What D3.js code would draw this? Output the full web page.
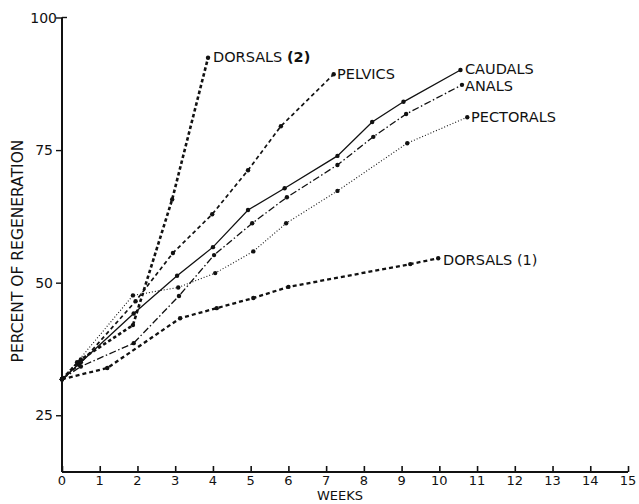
<!DOCTYPE html>
<html>
<head>
<meta charset="utf-8">
<script src="https://cdn.jsdelivr.net/npm/d3@7"></script>
<style>
  body { margin: 0; background: #fff; }
  text { font-family: "DejaVu Sans", sans-serif; fill: #111; }
</style>
</head>
<body>
<script>
// weeks / percent of regeneration
var caudals   = [[0,31.8],[0.5,35],[1.9,44.2],[3.05,51.3],[4,56.7],[4.93,63.7],[5.9,67.8],[7.3,73.9],[8.22,80.3],[9.05,84.1],[10.56,90.1]];
var anals     = [[0,31.8],[0.5,34.2],[1.9,38.6],[3.1,47.5],[4.03,55.2],[5.04,61.2],[5.96,66.1],[7.3,72.2],[8.25,77.5],[9.12,81.8],[10.6,87.3]];
var pectorals = [[0,31.8],[0.4,35],[1.88,47.6],[3.08,49.1],[4.06,51.8],[5.07,55.9],[5.94,61.2],[7.3,67.3],[9.15,76.3],[10.74,81.2]];
var pelvics   = [[0,31.8],[0.45,34.5],[1.95,46.5],[2.94,55.6],[3.98,62.9],[4.93,71.2],[5.8,79.5],[7.2,89.3]];
var dorsals1  = [[0,31.8],[1.2,33.9],[3.13,43.3],[4.1,45.2],[5.07,47.1],[6,49.2],[9.23,53.5],[9.97,54.6]];
var dorsals2  = [[0,31.8],[0.5,35.5],[1.88,42],[2.92,65.7],[3.87,92.4]];

var xTicks = [0,1,2,3,4,5,6,7,8,9,10,11,12,13,14,15];
var yTicks = [25,50,75,100];

var width = 639, height = 504;

var svg = d3.select("body").append("svg")
    .attr("width", width).attr("height", height);

var x = d3.scaleLinear().domain([0, 15]).range([62, 628]);
var y = d3.scaleLinear().domain([14.3, 100]).range([472, 17.5]);

// axes
var xAxis = d3.axisTop(x).tickValues(xTicks).tickSize(6).tickFormat("");
var gx = svg.append("g").attr("transform", "translate(0," + y(14.3) + ")").call(xAxis);
gx.select(".domain").remove();
gx.selectAll("line").attr("stroke", "#111").attr("stroke-width", 1.6);

svg.append("line")
    .attr("x1", x(0)).attr("x2", x(15))
    .attr("y1", y(14.3)).attr("y2", y(14.3))
    .attr("stroke", "#111").attr("stroke-width", 2);

svg.selectAll(".xlab")
    .data(xTicks)
    .enter().append("text")
    .attr("class", "xlab")
    .attr("x", function(d){ return x(d); })
    .attr("y", 485)
    .attr("text-anchor", "middle")
    .style("font-size", "13px")
    .text(function(d){ return d; });

var yAxis = d3.axisLeft(y).tickValues(yTicks).tickSize(6).tickFormat("");
var gy = svg.append("g").attr("transform", "translate(" + x(0) + ",0)").call(yAxis);
gy.select(".domain").remove();
gy.selectAll("line").attr("stroke", "#111").attr("stroke-width", 1.4);

svg.append("line")
    .attr("x1", x(0)).attr("x2", x(0))
    .attr("y1", y(100)).attr("y2", y(14.3))
    .attr("stroke", "#111").attr("stroke-width", 2);
svg.append("line")
    .attr("x1", x(0)).attr("x2", x(0) + 5)
    .attr("y1", y(100)).attr("y2", y(100))
    .attr("stroke", "#111").attr("stroke-width", 1.4);

svg.selectAll(".ylab")
    .data(yTicks)
    .enter().append("text")
    .attr("class", "ylab")
    .attr("x", function(d){ return d == 100 ? 57 : 53; })
    .attr("y", function(d){ return y(d) + 5; })
    .attr("text-anchor", "end")
    .style("font-size", "14px")
    .text(function(d){ return d; });

svg.append("text")
    .attr("text-anchor", "middle")
    .attr("x", 340).attr("y", 500)
    .style("font-size", "13px")
    .text("WEEKS");

svg.append("text")
    .attr("text-anchor", "middle")
    .attr("transform", "translate(23,251)rotate(-90)")
    .style("font-size", "15.5px")
    .text("PERCENT OF REGENERATION");

// series
var series = [
  {name: "caudals",   data: caudals,   dash: null,            w: 1.3},
  {name: "anals",     data: anals,     dash: "7,2.5,1.5,2.5", w: 1.3},
  {name: "pectorals", data: pectorals, dash: "1,2",           w: 1.1},
  {name: "pelvics",   data: pelvics,   dash: "4,3",           w: 1.7},
  {name: "dorsals1",  data: dorsals1,  dash: "4,3",           w: 2.3},
  {name: "dorsals2",  data: dorsals2,  dash: "3.5,2.5",       w: 2.6}
];

var line = d3.line()
    .x(function(d){ return x(d[0]); })
    .y(function(d){ return y(d[1]); });

series.forEach(function(s) {
  svg.append("path")
      .attr("d", line(s.data))
      .attr("fill", "none")
      .attr("stroke", "#111")
      .attr("stroke-width", s.w)
      .attr("stroke-dasharray", s.dash);

  svg.selectAll(".pt-" + s.name)
      .data(s.data)
      .enter().append("circle")
      .attr("class", "pt-" + s.name)
      .attr("cx", function(d){ return x(d[0]); })
      .attr("cy", function(d){ return y(d[1]); })
      .attr("r", 2.2)
      .attr("fill", "#111");
});

// line labels
var labels = [
  {text: "DORSALS ", bold: "(2)", x: 213, y: 62},
  {text: "PELVICS",  bold: "",    x: 337, y: 79},
  {text: "CAUDALS",  bold: "",    x: 465, y: 74},
  {text: "ANALS",    bold: "",    x: 465, y: 91},
  {text: "PECTORALS", bold: "",   x: 471, y: 122},
  {text: "DORSALS  (1)", bold: "", x: 443, y: 265}
];

labels.forEach(function(l) {
  var t = svg.append("text")
      .attr("x", l.x).attr("y", l.y)
      .style("font-size", "14.5px");
  t.append("tspan").text(l.text);
  if (l.bold) t.append("tspan").style("font-weight", "bold").text(l.bold);
});
</script>
</body>
</html>
